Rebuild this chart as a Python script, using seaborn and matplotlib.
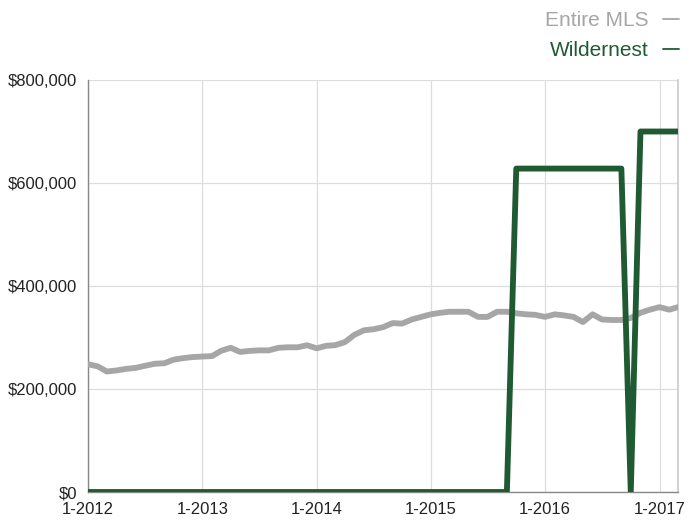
import numpy as np
import pandas as pd
import seaborn as sns
import matplotlib.pyplot as plt

# monthly median sale price, Jan 2012 .. Mar 2017
months = pd.date_range('2012-01-01', '2017-03-01', freq='MS')

entire_mls = [248000, 244000, 234000, 236000, 239000, 241000, 245000, 249000, 250000, 257000,
              260000, 262000, 263000, 264000, 274000, 280000, 272000, 274000, 275000, 275000,
              280000, 281000, 281000, 285000, 279000, 284000, 285000, 291000, 305000, 314000,
              316000, 320000, 328000, 327000, 335000, 340000, 345000, 348000, 350000, 350000,
              350000, 340000, 340000, 350000, 350000, 347000, 345000, 344000, 340000, 345000,
              343000, 340000, 330000, 345000, 335000, 334000, 334000, 338000, 348000, 354000,
              359000, 354000, 359000]

wildernest = [0] * 45 + [628000] * 12 + [0] + [700000] * 5

year_ticks = pd.date_range('2012-01-01', '2017-01-01', freq='YS')
year_labels = ['1-%d' % d.year for d in year_ticks]
y_ticks = [0, 200000, 400000, 600000, 800000]

df = pd.concat([
    pd.DataFrame({'month': months, 'price': entire_mls, 'area': 'Entire MLS'}),
    pd.DataFrame({'month': months, 'price': wildernest, 'area': 'Wildernest'}),
], ignore_index=True)

sns.set_theme(style='white')
plt.rcParams['font.family'] = ['Liberation Sans', 'DejaVu Sans']

fig = plt.figure(figsize=(6.89, 5.21), dpi=100)
ax = fig.add_axes([88/689, 1-492/521, (678-88)/689, (492-80)/521])

palette = {'Entire MLS': '#a6a6a6', 'Wildernest': '#1f5a32'}
sns.lineplot(data=df, x='month', y='price', hue='area', palette=palette,
             linewidth=4.2, ax=ax, zorder=3)

ax.set_xlim(months[0], months[-1])
ax.set_ylim(0, 800000)
ax.set_xticks(year_ticks)
ax.set_xticklabels(year_labels, fontsize=12, color='#222222')
ax.set_yticks(y_ticks)
ax.set_yticklabels(['$' + format(v, ',') for v in y_ticks], fontsize=12, color='#222222')
ax.set_xlabel('')
ax.set_ylabel('')
ax.grid(True, color='#dddddd', linewidth=0.9)
ax.tick_params(axis='both', length=4, width=0.8, color='#888888', pad=4)
ax.tick_params(axis='x', pad=3)

for s in ['left', 'bottom']:
    ax.spines[s].set_color('#888888')
    ax.spines[s].set_linewidth(1.0)
ax.spines['right'].set_color('#cccccc')
ax.spines['top'].set_visible(False)

sns.move_legend(ax, loc='upper right', bbox_to_anchor=(1.012, 1.014),
                bbox_transform=fig.transFigure, frameon=False, title=None,
                markerfirst=False, fontsize=15, handlelength=0.75,
                handletextpad=0.7, labelspacing=0.5, labelcolor='linecolor')
for h in ax.get_legend().legend_handles:
    h.set_linewidth(1.3)

fig.savefig('out.png', dpi=100)
